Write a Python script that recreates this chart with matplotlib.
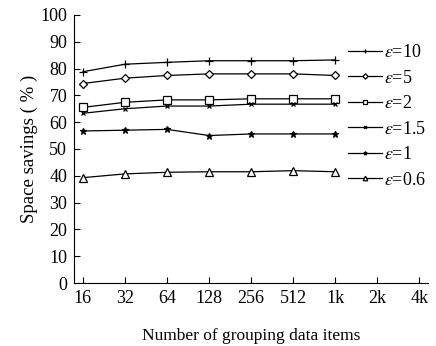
import matplotlib
matplotlib.use('Agg')
import matplotlib.pyplot as plt
import numpy as np

plt.rcParams['font.family'] = 'Liberation Serif'
plt.rcParams['mathtext.fontset'] = 'stix'
plt.rcParams['font.size'] = 13

# Data
tick_labels = ['16', '32', '64', '128', '256', '512', '1k', '2k', '4k']
eps_labels = ['10', '5', '2', '1.5', '1', '0.6']
eps10 = [78.8, 81.6, 82.3, 82.9, 82.9, 82.9, 83.2]
eps5 = [74.4, 76.4, 77.4, 78.0, 78.0, 78.0, 77.4]
eps2 = [65.5, 67.4, 68.3, 68.3, 68.7, 68.7, 68.7]
eps1_5 = [63.3, 65.0, 66.0, 66.0, 66.7, 66.7, 66.7]
eps1 = [56.7, 57.0, 57.3, 55.0, 55.6, 55.6, 55.6]
eps0_6 = [39.3, 40.7, 41.3, 41.5, 41.5, 41.9, 41.5]

series = [eps10, eps5, eps2, eps1_5, eps1, eps0_6]
markers = ['+', 'D', 's', 'x', '*', '^']
msizes = [6, 4.5, 5.5, 3.5, 4.5, 5.5]

fig = plt.figure(figsize=(4.36, 3.46), dpi=100)
ax = fig.add_axes([0.170, 0.182, 0.812, 0.775])

x = np.arange(len(eps10))
for vals, lab, m, ms in zip(series, eps_labels, markers, msizes):
    ax.plot(x, vals, color='black', linewidth=0.9, marker=m, markersize=ms,
            markerfacecolor='white' if m in ('D', 's', '^') else 'black',
            markeredgecolor='black', markeredgewidth=0.9,
            label=r'$\varepsilon$=' + lab)

ax.set_xticks(np.arange(len(tick_labels)))
ax.set_xticklabels(tick_labels)
ax.set_xlim(-0.21, 8.21)
ax.set_ylim(0, 100)
ax.set_yticks(np.arange(0, 101, 10))
ax.tick_params(direction='in', length=4, width=0.8, labelsize=13, pad=5)
ax.spines['top'].set_visible(False)
ax.spines['right'].set_visible(False)

ax.set_xlabel('Number of grouping data items', fontsize=12.5, labelpad=15)
ax.set_ylabel('Space savings ( % )', fontsize=13.5, labelpad=2)

ax.legend(loc='center left', bbox_to_anchor=(0.774, 0.621), frameon=False,
          handlelength=1.9, handletextpad=0.1, labelspacing=0.47,
          borderaxespad=0, borderpad=0, markerscale=0.6, fontsize=13)

fig.savefig('out.png', dpi=100)
